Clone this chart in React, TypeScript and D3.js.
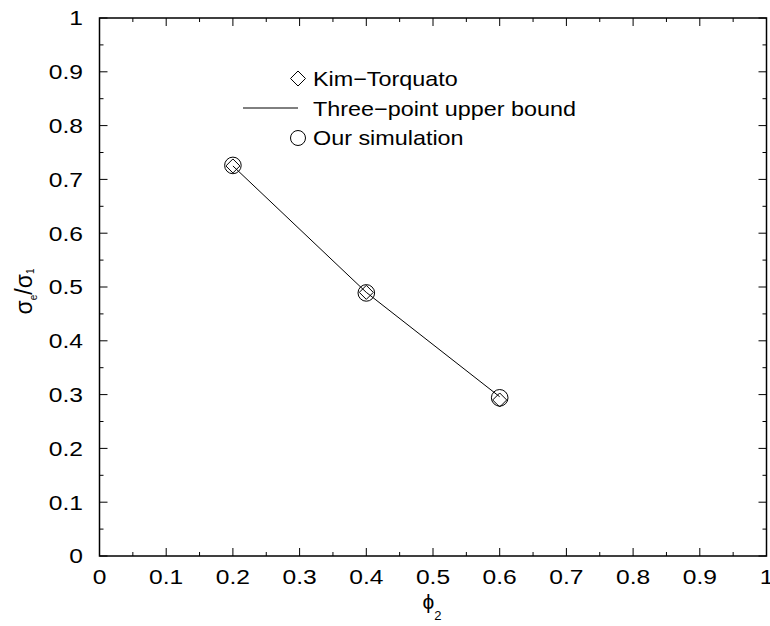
import React from "react";
import * as d3 from "d3";

const phi2 = [0.2, 0.4, 0.6];
const kimTorquato = [0.725, 0.49, 0.29];
const upperBound = [0.725, 0.49, 0.296];
const ourSimulation = [0.726, 0.489, 0.294];
const xTicks = [0, 0.1, 0.2, 0.3, 0.4, 0.5, 0.6, 0.7, 0.8, 0.9, 1];
const yTicks = [0, 0.1, 0.2, 0.3, 0.4, 0.5, 0.6, 0.7, 0.8, 0.9, 1];
const legendLabels = ["Kim\u2212Torquato", "Three\u2212point upper bound", "Our simulation"];

const W = 770, H = 626;
const L = 99.5, R = 766.5, T = 18, B = 556;
const FONT = "'Liberation Sans', Arial, sans-serif";

export default function App() {
  const x = d3.scaleLinear().domain([0, 1]).range([L, R]);
  const y = d3.scaleLinear().domain([0, 1]).range([B, T]);
  const minor = d3.range(0, 1.0001, 0.05);
  const line = d3.line<number>().x((_, i) => x(phi2[i])).y((d) => y(d));
  const diamond = (cx: number, cy: number, r: number) =>
    `M${cx},${cy - r}L${cx + r},${cy}L${cx},${cy + r}L${cx - r},${cy}Z`;
  const isMajor = (v: number) => Math.abs(v * 10 - Math.round(v * 10)) < 1e-6;

  return (
    <svg width={W} height={H} style={{ position: "absolute", left: 0, top: 0, background: "#fff" }}
      fontFamily={FONT}>
      <rect x={0} y={0} width={W} height={H} fill="#fff" />
      {/* ticks */}
      <g stroke="#000" strokeWidth={1}>
        {minor.map((v, i) => {
          const len = isMajor(v) ? 8 : 4;
          return (
            <g key={i}>
              <line x1={x(v)} x2={x(v)} y1={B} y2={B - len} />
              <line x1={x(v)} x2={x(v)} y1={T} y2={T + len} />
              <line x1={L} x2={L + len} y1={y(v)} y2={y(v)} />
              <line x1={R} x2={R - len} y1={y(v)} y2={y(v)} />
            </g>
          );
        })}
      </g>
      <rect x={L} y={T} width={R - L} height={B - T} fill="none" stroke="#000" strokeWidth={1.5} />
      {/* tick labels */}
      <g fontSize={20.5} fill="#000">
        {xTicks.map((v) => (
          <text key={"x" + v} transform={`translate(${x(v)},584) scale(1.2,1)`} textAnchor="middle">{String(v)}</text>
        ))}
        {yTicks.map((v) => (
          <text key={"y" + v} transform={`translate(83,${y(v) + 7.3}) scale(1.2,1)`} textAnchor="end">{String(v)}</text>
        ))}
      </g>
      {/* axis titles */}
      <text x={432} y={609} textAnchor="middle" fontSize={21}>
        {"\u03d5"}<tspan fontSize={13} dy={11}>2</tspan>
      </text>
      <text transform={`translate(32,291.5) rotate(-90)`} textAnchor="middle" fontSize={23}>
        {"\u03c3"}<tspan fontSize={10} dy={5}>e</tspan><tspan dy={-5}>/</tspan>{"\u03c3"}<tspan fontSize={10} dy={2}>1</tspan>
      </text>
      {/* data */}
      <path d={line(upperBound) || ""} fill="none" stroke="#000" strokeWidth={1} />
      {kimTorquato.map((v, i) => (
        <path key={"d" + i} d={diamond(x(phi2[i]), y(v), 7)} fill="none" stroke="#000" strokeWidth={1} />
      ))}
      {ourSimulation.map((v, i) => (
        <circle key={"c" + i} cx={x(phi2[i])} cy={y(v)} r={8.3} fill="none" stroke="#000" strokeWidth={1} />
      ))}
      {/* legend */}
      <g fontSize={20.5}>
        <path d={diamond(298, 78.5, 7.5)} fill="none" stroke="#000" strokeWidth={1} />
        <text transform="translate(313,86) scale(1.14,1)">{legendLabels[0]}</text>
        <line x1={243} x2={298} y1={108} y2={108} stroke="#000" strokeWidth={1} />
        <text transform="translate(313,115.5) scale(1.14,1)">{legendLabels[1]}</text>
        <circle cx={298} cy={138} r={7.5} fill="none" stroke="#000" strokeWidth={1} />
        <text transform="translate(313,145) scale(1.14,1)">{legendLabels[2]}</text>
      </g>
    </svg>
  );
}
